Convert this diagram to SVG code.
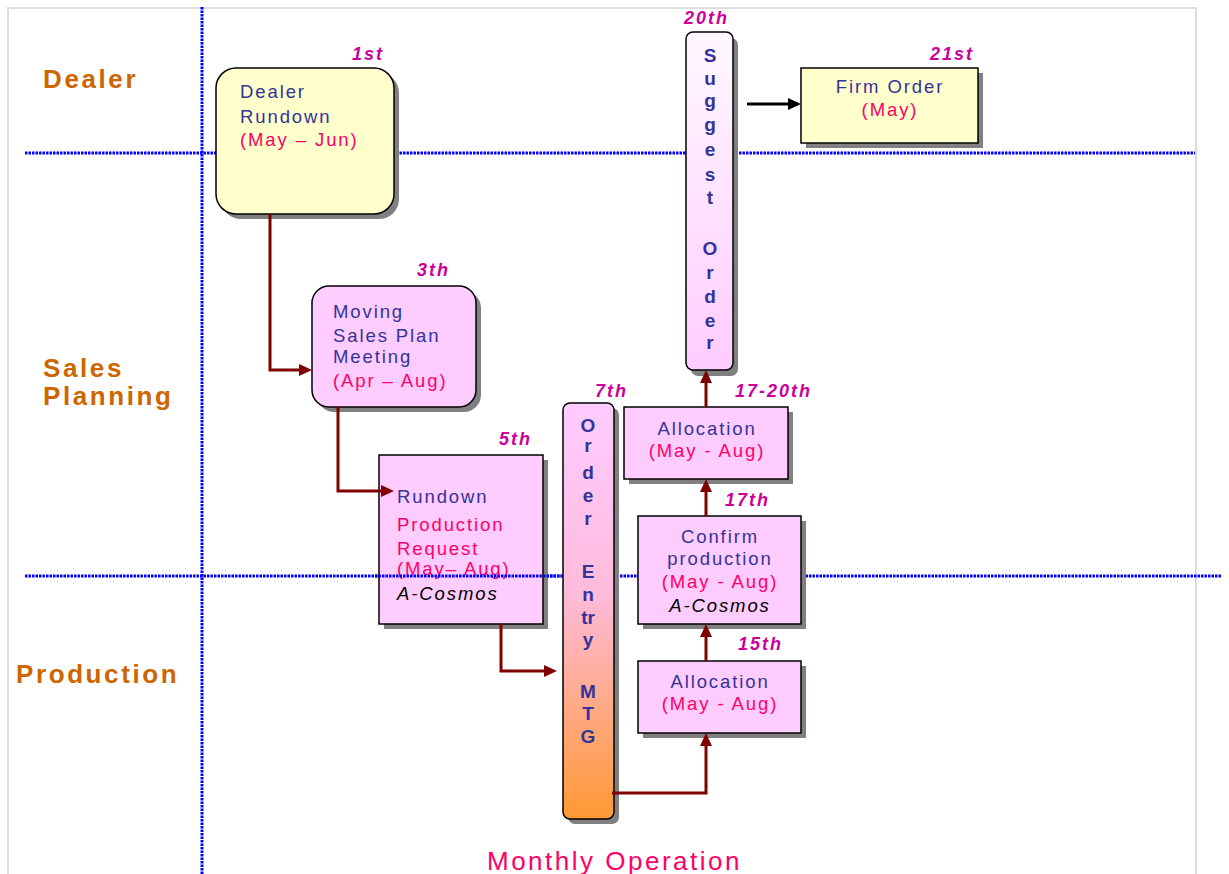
<svg xmlns="http://www.w3.org/2000/svg" width="1229" height="874" viewBox="0 0 1229 874">
<defs>
<style>
.frame{fill:none;stroke:#dcdcdc;stroke-width:2}
.lane{stroke:#0000ff;stroke-width:3;stroke-dasharray:2.5 1;fill:none}
.lanelbl{font-family:"Liberation Sans",Arial,sans-serif;font-weight:bold;font-size:26px;letter-spacing:2.6px;fill:#cc6600}
.shadow{fill:#808080}
.box{stroke:#000;stroke-width:1.5}
.yel{fill:#ffffcc}
.pink{fill:#ffccff}
.t{font-family:"Liberation Sans",Arial,sans-serif;font-size:18.5px;letter-spacing:1.9px}
.b{fill:#333399}
.r{fill:#ff0066}
.k{fill:#000;font-style:italic}
.day{font-family:"Liberation Sans",Arial,sans-serif;font-size:18px;font-weight:bold;font-style:italic;letter-spacing:2px;fill:#cc0099}
.col{font-family:"Liberation Sans",Arial,sans-serif;font-size:19px;font-weight:bold;fill:#333399;text-anchor:middle}
.c{text-anchor:middle}
.conn{fill:none;stroke:#800000;stroke-width:3;marker-end:url(#ah)}
.connk{fill:none;stroke:#000;stroke-width:3;marker-end:url(#ahk)}
</style>
<marker id="ah" viewBox="0 0 13 12" refX="7" refY="6" markerWidth="13" markerHeight="12" markerUnits="userSpaceOnUse" orient="auto"><path d="M0,0 L13,6 L0,12 z" fill="#800000"/></marker>
<marker id="ahk" viewBox="0 0 13 12" refX="7" refY="6" markerWidth="13" markerHeight="12" markerUnits="userSpaceOnUse" orient="auto"><path d="M0,0 L13,6 L0,12 z" fill="#000"/></marker>
<linearGradient id="gOrder" x1="0" y1="0" x2="0" y2="1"><stop offset="0" stop-color="#ffccff"/><stop offset="0.45" stop-color="#ffbbdd"/><stop offset="1" stop-color="#ff9933"/></linearGradient>
<linearGradient id="gSugg" x1="0" y1="0" x2="0" y2="1"><stop offset="0" stop-color="#fff8ff"/><stop offset="1" stop-color="#ffccff"/></linearGradient>
</defs>
<rect width="1229" height="874" fill="#fff"/>
<path class="frame" d="M8,874 V8 H1196 V874"/>
<g id="lanes">
<line class="lane" x1="202" y1="7" x2="202" y2="874"/>
<line class="lane" x1="25" y1="153" x2="1195" y2="153"/>
<line class="lane" x1="25" y1="576" x2="1222" y2="576"/>
<text class="lanelbl" x="43" y="88">Dealer</text>
<text class="lanelbl" x="43" y="377">Sales</text>
<text class="lanelbl" x="43" y="405">Planning</text>
<text class="lanelbl" x="16" y="683">Production</text>
</g>
<g id="n1">
<rect class="shadow" x="221" y="73" width="178" height="146" rx="20"/>
<rect class="box yel" x="216" y="68" width="178" height="146" rx="20"/>
<text class="t b" x="240" y="98">Dealer</text>
<text class="t b" x="240" y="123">Rundown</text>
<text class="t r" x="240" y="146">(May – Jun)</text>
<text class="day" x="352" y="60">1st</text>
</g>
<g id="n2">
<rect class="shadow" x="317" y="291" width="164" height="121" rx="17"/>
<rect class="box pink" x="312" y="286" width="164" height="121" rx="17"/>
<text class="t b" x="333" y="318">Moving</text>
<text class="t b" x="333" y="342">Sales Plan</text>
<text class="t b" x="333" y="363">Meeting</text>
<text class="t r" x="333" y="387">(Apr – Aug)</text>
<text class="day" x="417" y="276">3th</text>
</g>
<g id="n3">
<rect class="shadow" x="384" y="460" width="164" height="169"/>
<rect class="box pink" x="379" y="455" width="164" height="169"/>
<text class="t b" x="397" y="503">Rundown</text>
<text class="t r" x="397" y="531">Production</text>
<text class="t r" x="397" y="555">Request</text>
<text class="t r" x="397" y="575">(May– Aug)</text>
<text class="t k" x="397" y="600">A-Cosmos</text>
<text class="day" x="499" y="445">5th</text>
</g>
<line class="lane" x1="375" y1="576" x2="561" y2="576"/>
<g id="n4">
<rect class="shadow" x="568" y="408" width="51" height="416" rx="7"/>
<rect class="box" fill="url(#gOrder)" x="563" y="403" width="51" height="416" rx="7"/>
<text class="col" x="588" y="432">O</text>
<text class="col" x="588" y="452">r</text>
<text class="col" x="588" y="479">d</text>
<text class="col" x="588" y="502">e</text>
<text class="col" x="588" y="525">r</text>
<text class="col" x="588" y="578">E</text>
<text class="col" x="588" y="601">n</text>
<text class="col" x="588" y="624">tr</text>
<text class="col" x="588" y="646">y</text>
<text class="col" x="588" y="698">M</text>
<text class="col" x="588" y="720">T</text>
<text class="col" x="588" y="743">G</text>
<text class="day" x="595" y="397">7th</text>
</g>
<g id="n5">
<rect class="shadow" x="629" y="412" width="164" height="72"/>
<rect class="box pink" x="624" y="407" width="164" height="72"/>
<text class="t b c" x="707" y="435">Allocation</text>
<text class="t r c" x="707" y="457">(May - Aug)</text>
<text class="day" x="735" y="397">17-20th</text>
</g>
<g id="n6">
<rect class="shadow" x="643" y="521" width="163" height="108"/>
<rect class="box pink" x="638" y="516" width="163" height="108"/>
<text class="t b c" x="720" y="543">Confirm</text>
<text class="t b c" x="720" y="565">production</text>
<text class="t r c" x="720" y="588">(May - Aug)</text>
<text class="t k c" x="720" y="612">A-Cosmos</text>
<text class="day" x="725" y="506">17th</text>
</g>
<g id="n7">
<rect class="shadow" x="643" y="666" width="163" height="72"/>
<rect class="box pink" x="638" y="661" width="163" height="72"/>
<text class="t b c" x="720" y="688">Allocation</text>
<text class="t r c" x="720" y="710">(May - Aug)</text>
<text class="day" x="738" y="650">15th</text>
</g>
<g id="n8">
<rect class="shadow" x="691" y="38" width="47" height="338" rx="7"/>
<rect class="box" fill="url(#gSugg)" x="686" y="32" width="47" height="338" rx="7"/>
<text class="col" x="710" y="62">S</text>
<text class="col" x="710" y="85">u</text>
<text class="col" x="710" y="107">g</text>
<text class="col" x="710" y="131">g</text>
<text class="col" x="710" y="156">e</text>
<text class="col" x="710" y="181">s</text>
<text class="col" x="710" y="204">t</text>
<text class="col" x="710" y="255">O</text>
<text class="col" x="710" y="279">r</text>
<text class="col" x="710" y="303">d</text>
<text class="col" x="710" y="327">e</text>
<text class="col" x="710" y="349">r</text>
<text class="day" x="684" y="24">20th</text>
</g>
<g id="n9">
<rect class="shadow" x="806" y="73" width="177" height="75"/>
<rect class="box yel" x="801" y="68" width="177" height="75"/>
<text class="t b c" x="890" y="93">Firm Order</text>
<text class="t r c" x="890" y="116">(May)</text>
<text class="day" x="930" y="60">21st</text>
</g>
<g id="connectors">
<path class="conn" d="M270,214 V370 H306"/>
<path class="conn" d="M338,407 V491 H388"/>
<path class="conn" d="M501,624 V671 H551"/>
<path class="conn" d="M612,793 H706 V739"/>
<path class="conn" d="M706,661 V630"/>
<path class="conn" d="M706,516 V485"/>
<path class="conn" d="M706,407 V376"/>
<path class="connk" d="M747,104 H795"/>
</g>
<text x="487" y="870" font-family="Liberation Sans, Arial, sans-serif" font-size="26" letter-spacing="2.5" fill="#ff0066">Monthly Operation</text>
</svg>
